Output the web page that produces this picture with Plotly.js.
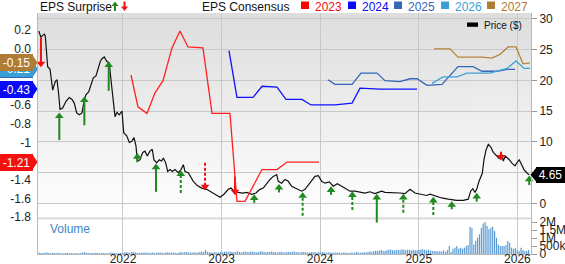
<!DOCTYPE html>
<html><head><meta charset="utf-8">
<script src="https://cdn.plot.ly/plotly-3.0.1.min.js"></script>
<style>html,body{margin:0;padding:0;background:#fff;}#chart{width:565px;height:264px;}</style>
</head><body><div id="chart"></div>
<script>
// ---------------- data (x in decimal years) ----------------
const priceYears = [2021.145,2021.168,2021.186,2021.202,2021.212,2021.226,2021.236,2021.260,2021.287,2021.313,2021.331,2021.348,2021.361,2021.388,2021.422,2021.455,2021.483,2021.506,2021.530,2021.557,2021.584,2021.608,2021.625,2021.652,2021.675,2021.699,2021.726,2021.754,2021.770,2021.787,2021.810,2021.835,2021.861,2021.878,2021.896,2021.919,2021.939,2021.962,2021.990,2022.007,2022.038,2022.064,2022.088,2022.112,2022.132,2022.145,2022.172,2022.200,2022.223,2022.246,2022.274,2022.297,2022.314,2022.342,2022.368,2022.392,2022.409,2022.433,2022.453,2022.477,2022.500,2022.527,2022.561,2022.588,2022.612,2022.629,2022.662,2022.687,2022.713,2022.754,2022.798,2022.849,2022.900,2022.950,2022.984,2023.024,2023.068,2023.095,2023.126,2023.169,2023.214,2023.255,2023.305,2023.349,2023.389,2023.423,2023.457,2023.491,2023.524,2023.559,2023.575,2023.609,2023.643,2023.676,2023.711,2023.762,2023.812,2023.846,2023.897,2023.947,2023.981,2024.015,2024.049,2024.092,2024.133,2024.173,2024.218,2024.262,2024.302,2024.353,2024.404,2024.454,2024.505,2024.556,2024.589,2024.624,2024.657,2024.708,2024.759,2024.809,2024.860,2024.911,2024.961,2025.012,2025.080,2025.114,2025.164,2025.232,2025.299,2025.384,2025.451,2025.502,2025.526,2025.547,2025.570,2025.587,2025.611,2025.628,2025.644,2025.661,2025.682,2025.705,2025.729,2025.756,2025.790,2025.816,2025.841,2025.857,2025.877,2025.898,2025.918,2025.942,2025.976,2025.999,2026.019,2026.043,2026.067,2026.094,2026.121];
const priceValues = [28.0,27.0,27.3,27.5,27.2,24.4,22.2,21.8,18.4,19.8,20.1,17.7,15.3,15.5,16.6,17.2,16.9,16.3,14.7,14.4,14.7,16.9,17.7,18.1,19.3,20.4,20.7,22.3,23.1,23.5,23.8,23.1,22.8,20.1,16.9,14.1,14.8,14.4,15.0,11.5,11.0,9.9,10.1,10.7,9.3,6.9,7.1,8.3,8.5,7.7,8.5,8.8,7.1,6.6,7.1,6.9,7.4,6.6,5.2,5.5,5.2,5.5,5.0,5.5,6.3,5.2,5.0,4.2,3.6,2.9,2.5,2.3,1.8,1.3,1.0,1.5,2.3,2.5,2.0,1.8,1.7,1.8,1.5,1.7,2.3,2.5,3.3,3.9,4.4,4.7,3.6,3.3,3.9,3.6,2.8,2.4,2.0,2.3,3.3,4.4,4.5,3.6,3.3,3.5,2.8,3.2,2.8,2.4,2.0,2.0,1.8,1.7,1.9,1.6,1.8,2.0,1.8,1.8,1.7,1.7,1.6,2.3,1.7,1.5,1.3,1.5,1.2,0.9,0.7,0.5,0.5,0.7,2.0,2.4,1.8,2.3,3.6,4.4,4.9,7.1,8.7,9.6,9.2,8.3,7.7,7.3,8.0,6.9,7.7,7.4,7.1,6.6,6.1,6.7,7.1,6.3,5.5,5.0,4.65];

const cons2023Years = [2022.081,2022.152,2022.243,2022.325,2022.406,2022.497,2022.578,2022.659,2022.811,2022.903,2023.085,2023.156,2023.237,2023.410,2023.562,2023.663,2023.988];
const cons2023 = [-0.28,-0.62,-0.69,-0.47,-0.34,0.01,0.19,0.02,0.01,-0.69,-0.69,-1.63,-1.63,-1.29,-1.29,-1.21,-1.21];
const cons2024Years = [2023.075,2023.156,2023.318,2023.410,2023.562,2023.653,2023.815,2023.907,2024.150,2024.323,2024.404,2024.607,2024.982];
const cons2024 = [-0.02,-0.52,-0.52,-0.40,-0.41,-0.54,-0.54,-0.60,-0.60,-0.58,-0.42,-0.43,-0.43];
const cons2025Years = [2024.079,2024.150,2024.323,2024.414,2024.576,2024.657,2024.809,2024.911,2024.982,2025.083,2025.235,2025.398,2025.550,2025.641,2025.793,2025.895,2025.976];
const cons2025 = [-0.33,-0.38,-0.38,-0.26,-0.26,-0.34,-0.35,-0.32,-0.32,-0.39,-0.38,-0.19,-0.19,-0.24,-0.24,-0.22,-0.22];
const cons2026Years = [2025.134,2025.246,2025.387,2025.489,2025.722,2025.895,2025.986,2026.067,2026.128];
const cons2026 = [-0.37,-0.30,-0.30,-0.26,-0.26,-0.21,-0.13,-0.21,-0.21];
const cons2027Years = [2025.154,2025.316,2025.398,2025.641,2025.742,2025.823,2025.905,2025.986,2026.057,2026.128];
const cons2027 = [0.00,0.00,-0.09,-0.09,-0.10,-0.06,0.02,0.02,-0.16,-0.15];
const consNames = ['2023','2024','2025','2026','2027'];
const consLast = [-1.21,-0.43,-0.22,-0.21,-0.15];

// EPS surprise arrows: x, price at arrow tip, price at arrow tail, dashed flag
const surpriseYears = [2021.168,2021.354,2021.608,2021.855,2022.145,2022.335,2022.586,2022.832,2023.136,2023.331,2023.582,2023.822,2024.110,2024.326,2024.574,2024.843,2025.147,2025.334,2025.587,2025.833,2026.120];
const surpriseHead  = [22.2,14.7,17.3,23.0,8.1,6.4,5.3,2.2,1.4,1.4,3.1,1.75,2.7,1.9,1.5,1.5,1.0,0.3,1.65,7.06,4.46];
const surpriseTail  = [26.9,10.3,12.7,18.3,6.7,1.9,1.7,6.6,4.4,0.1,1.8,-2.0,1.4,-1.05,-3.1,-1.5,-1.87,-0.94,0.3,8.41,3.0];
const surpriseDashed = [0,0,0,0,0,0,1,1,0,0,0,1,0,1,0,1,1,0,0,0,0];

// weekly volume (thousands of shares)
const volumeStart = 2021.15;
const volumeStepYears = 7/365.25;
const volumeK = [
 90,70,60,80,110,60,50,70,60,50,80,60,50,40,60,70,50,60,50,40,60,50,70,90,110,80,60,50,60,70,80,60,50,60,70,60,50,60,90,80,60,50,60,70,60,
 100,130,90,80,120,110,90,80,70,90,80,100,90,70,80,90,70,80,90,100,80,70,90,110,100,80,90,80,70,100,120,90,110,130,100,90,80,110,90,100,120,150,110,250,140,110,100,90,120,100,90,110,
 100,140,160,120,150,130,110,140,170,120,100,130,150,120,110,160,140,120,100,130,150,170,130,110,120,140,160,130,110,100,120,140,110,100,130,120,110,140,160,130,110,100,120,130,110,100,90,120,130,110,100,120,
 100,120,90,80,110,100,90,80,100,90,80,70,90,100,80,70,90,80,100,120,90,80,100,110,90,120,150,130,170,200,180,220,250,210,190,230,260,280,240,220,250,270,230,290,260,240,280,250,220,260,240,230,
 250,280,300,260,240,270,220,190,190,190,160,170,160,230,125,250,500,125,330,390,500,350,390,330,390,500,560,1700,1640,600,810,1020,1230,1640,1910,2000,1750,1540,1640,1700,1440,1020,600,500,500,500,560,810,700,390,330,390,250,190,390,250,190,190,250
];

const xTickYears = [2022,2023,2024,2025,2026];
const xTickLabels = ['2022','2023','2024','2025','2026'];
const priceTicks = [0,5,10,15,20,25,30];
const priceTickLabels = ['0','5','10','15','20','25','30'];
const epsTicks = [0.2,0,-0.2,-0.4,-0.6,-0.8,-1,-1.2,-1.4,-1.6,-1.8];
const epsTickLabels = ['0.2','0.0','-0.2','-0.4','-0.6','-0.8','-1','-1.2','-1.4','-1.6','-1.8'];
const volTicks = [0,500000,1000000,1500000,2000000];
const volTickLabels = ['0','500k','1M','1.5M','2M'];
const lastPrice = 4.65;

// ---------------- layout geometry ----------------
const W=565,H=264,ML=38,MR=34,MT=13,MB=10;
const PW=W-ML-MR, PH=H-MT-MB;
const px2x = px => (px-ML)/PW;
const py2y = py => (H-MB-py)/PH;
const mainDomain=[py2y(224),1];
const volDomain=[0,py2y(220.4)];
const priceRange=[-3.33,30.93];
const epsRange=[-1.872,0.3825];
const volRange=[0,2100000];
const xRange=[2021.138,2026.138];

const FONT='Liberation Sans, Arial, sans-serif';
const GREEN='#1f8a1f', RED='#f01010';
const consColors=['#ff2020','#1010ff','#3566b8','#3fa2d8','#b5843a'];
const tagColors=['#f51010','#0a0af5','#3566b8','#3a9fd6','#b07b34'];

// gradient background
function gradientURL(){
  const c=document.createElement('canvas'); c.width=4; c.height=256;
  const g=c.getContext('2d'); const gr=g.createLinearGradient(0,0,0,256);
  gr.addColorStop(0,'#dddddd'); gr.addColorStop(1,'#ffffff');
  g.fillStyle=gr; g.fillRect(0,0,4,256); return c.toDataURL('image/png');
}

const traces=[];
traces.push({type:'bar', x0:volumeStart, dx:volumeStepYears, y:volumeK.map(v=>v*1000),
  xaxis:'x', yaxis:'y3', marker:{color:'#5b9bd5', line:{width:0}}, width:0.012, hoverinfo:'skip'});

const consX=[cons2023Years,cons2024Years,cons2025Years,cons2026Years,cons2027Years];
const consY=[cons2023,cons2024,cons2025,cons2026,cons2027];
consX.forEach((xs,i)=>traces.push({type:'scatter',mode:'lines',x:xs,y:consY[i],yaxis:'y2',
  line:{color:consColors[i],width:1.3}, hoverinfo:'skip'}));

traces.push({type:'scatter',mode:'lines',x:priceYears,y:priceValues,yaxis:'y',
  line:{color:'#111',width:1.2}, hoverinfo:'skip'});

// arrows
const pxPerPrice=(224-13)/(priceRange[1]-priceRange[0]);
const headSize=6.5, headOff=(headSize/2)/pxPerPrice;
const groups={gs:{x:[],y:[]},gd:{x:[],y:[]},rs:{x:[],y:[]},rd:{x:[],y:[]}};
const upHead={x:[],y:[]}, dnHead={x:[],y:[]};
surpriseYears.forEach((yr,i)=>{
  const up=surpriseHead[i]>surpriseTail[i];
  const my= up? surpriseHead[i]-headOff : surpriseHead[i]+headOff;
  const key=(up?'g':'r')+(surpriseDashed[i]?'d':'s');
  groups[key].x.push(yr,yr,null); groups[key].y.push(surpriseTail[i],my,null);
  (up?upHead:dnHead).x.push(yr); (up?upHead:dnHead).y.push(my);
});
[['gs',GREEN,'solid'],['gd',GREEN,'3px,2px'],['rs',RED,'solid'],['rd',RED,'3px,2px']].forEach(([k,c,d])=>{
  traces.push({type:'scatter',mode:'lines',x:groups[k].x,y:groups[k].y,yaxis:'y',connectgaps:false,
    line:{color:c,width:2,dash:d},hoverinfo:'skip'});
});
traces.push({type:'scatter',mode:'markers',x:upHead.x,y:upHead.y,yaxis:'y',cliponaxis:false,
  marker:{symbol:'triangle-up',size:headSize+1,color:GREEN,line:{width:0}},hoverinfo:'skip'});
traces.push({type:'scatter',mode:'markers',x:dnHead.x,y:dnHead.y,yaxis:'y',cliponaxis:false,
  marker:{symbol:'triangle-down',size:headSize+1,color:RED,line:{width:0}},hoverinfo:'skip'});

// shapes & annotations
const shapes=[], ann=[];
shapes.push({type:'rect',xref:'paper',yref:'paper',x0:0,x1:1,y0:py2y(219.6),y1:py2y(217.2),
  fillcolor:'#dcdcdc',line:{width:0},layer:'below'});

function txt(text,xpx,ypx,opts){
  ann.push(Object.assign({text:text,xref:'paper',yref:'paper',x:px2x(xpx),y:py2y(ypx),
    xanchor:'left',yanchor:'middle',showarrow:false,font:{family:FONT,size:12,color:'#111'}},opts||{}));
}
function rectPx(x0,y0,x1,y1,color){
  shapes.push({type:'rect',xref:'paper',yref:'paper',x0:px2x(x0),x1:px2x(x1),y0:py2y(y1),y1:py2y(y0),
    fillcolor:color,line:{width:0},layer:'above'});
}
function pathPx(pts,color){
  const d=pts.map((p,i)=>(i?'L':'M')+px2x(p[0])+','+py2y(p[1])).join(' ')+' Z';
  shapes.push({type:'path',xref:'paper',yref:'paper',path:d,fillcolor:color,line:{width:0},layer:'above'});
}
function tagBox(text,xpx,ypx,w,h,color){
  ann.push({text:text,xref:'paper',yref:'paper',x:px2x(xpx),y:py2y(ypx),xanchor:'left',yanchor:'middle',
    showarrow:false,width:w,height:h,bgcolor:color,borderpad:0,borderwidth:0,align:'center',valign:'middle',
    font:{family:FONT,size:12,color:'#fff'}});
}

// header
txt('EPS Surprise',38,6.5);
rectPx(114,5.5,116,11,GREEN); pathPx([[111.5,6],[118.5,6],[115,1.5]],GREEN);
rectPx(123.5,1.5,125.5,7,RED); pathPx([[121,6.5],[128,6.5],[124.5,11]],RED);
txt('EPS Consensus',200,6.5);
const legX=[301,348,394,441,487];
consNames.forEach((n,i)=>{
  rectPx(legX[i],1.5,legX[i]+8,9,i===0?'#ff0000':tagColors[i]);
  txt(n,legX[i]+12,6.5,{font:{family:FONT,size:12,color:tagColors[i]}});
});

// price legend
rectPx(467,22.5,478,26.8,'#000');
txt('Price ($)',482,25.2,{font:{family:FONT,size:10,color:'#111'}});
// volume label
txt('Volume',48,229,{font:{family:FONT,size:12,color:'#3d85c6'}});

// left value tags (consensus last values)
consLast.forEach((v,i)=>{
  const ypx = 13 + (epsRange[1]-v)/(epsRange[1]-epsRange[0])*(224-13);
  pathPx([[32,ypx-8.5],[37.5,ypx],[32,ypx+8.5]],tagColors[i]);
  tagBox(v.toFixed(2),0,ypx,33,17,tagColors[i]);
});
// right last price tag
{
  const ypx = 13 + (priceRange[1]-lastPrice)/(priceRange[1]-priceRange[0])*(224-13);
  pathPx([[530.5,ypx],[537,ypx-8],[537,ypx+8]],'#000');
  tagBox(lastPrice.toFixed(2),536,ypx,29,16,'#000');
}

const axFont={family:FONT,size:12,color:'#222'};
const layout={
  width:W,height:H,margin:{l:ML,r:MR,t:MT,b:MB,pad:0},
  paper_bgcolor:'#fff',plot_bgcolor:'rgba(0,0,0,0)',showlegend:false,hovermode:false,
  font:{family:FONT,size:12,color:'#222'},
  bargap:0.3,
  images:[{source:gradientURL(),xref:'paper',yref:'paper',x:0,y:1,sizex:1,sizey:1-py2y(218),
    sizing:'stretch',xanchor:'left',yanchor:'top',layer:'below'}],
  xaxis:{range:xRange,domain:[0,1],anchor:'y3',tickmode:'array',tickvals:xTickYears,ticktext:xTickLabels,
    showgrid:true,gridcolor:'#c8c8c8',gridwidth:1,zeroline:false,showline:true,linecolor:'#b8b8b8',
    ticks:'',tickfont:axFont,ticklabelstandoff:-6,fixedrange:true},
  yaxis:{domain:mainDomain,range:priceRange,side:'right',anchor:'x',tickmode:'array',tickvals:priceTicks,ticktext:priceTickLabels,
    showgrid:true,gridcolor:'#c8c8c8',gridwidth:1,zeroline:false,showline:true,mirror:true,linecolor:'#b8b8b8',
    ticks:'outside',ticklen:5,tickcolor:'#999',tickfont:axFont,fixedrange:true},
  yaxis2:{overlaying:'y',side:'left',anchor:'x',range:epsRange,tickmode:'array',tickvals:epsTicks,ticktext:epsTickLabels,
    showgrid:false,zeroline:false,showline:false,ticks:'',tickfont:axFont,ticklabelstandoff:6,fixedrange:true},
  yaxis3:{domain:volDomain,range:volRange,side:'right',anchor:'x',tickmode:'array',tickvals:volTicks,ticktext:volTickLabels,
    showgrid:false,zeroline:false,showline:true,mirror:true,linecolor:'#b8b8b8',
    ticks:'outside',ticklen:5,tickcolor:'#999',tickfont:axFont,fixedrange:true},
  shapes:shapes, annotations:ann
};
Plotly.newPlot('chart',traces,layout,{staticPlot:true,displayModeBar:false});
</script></body></html>
